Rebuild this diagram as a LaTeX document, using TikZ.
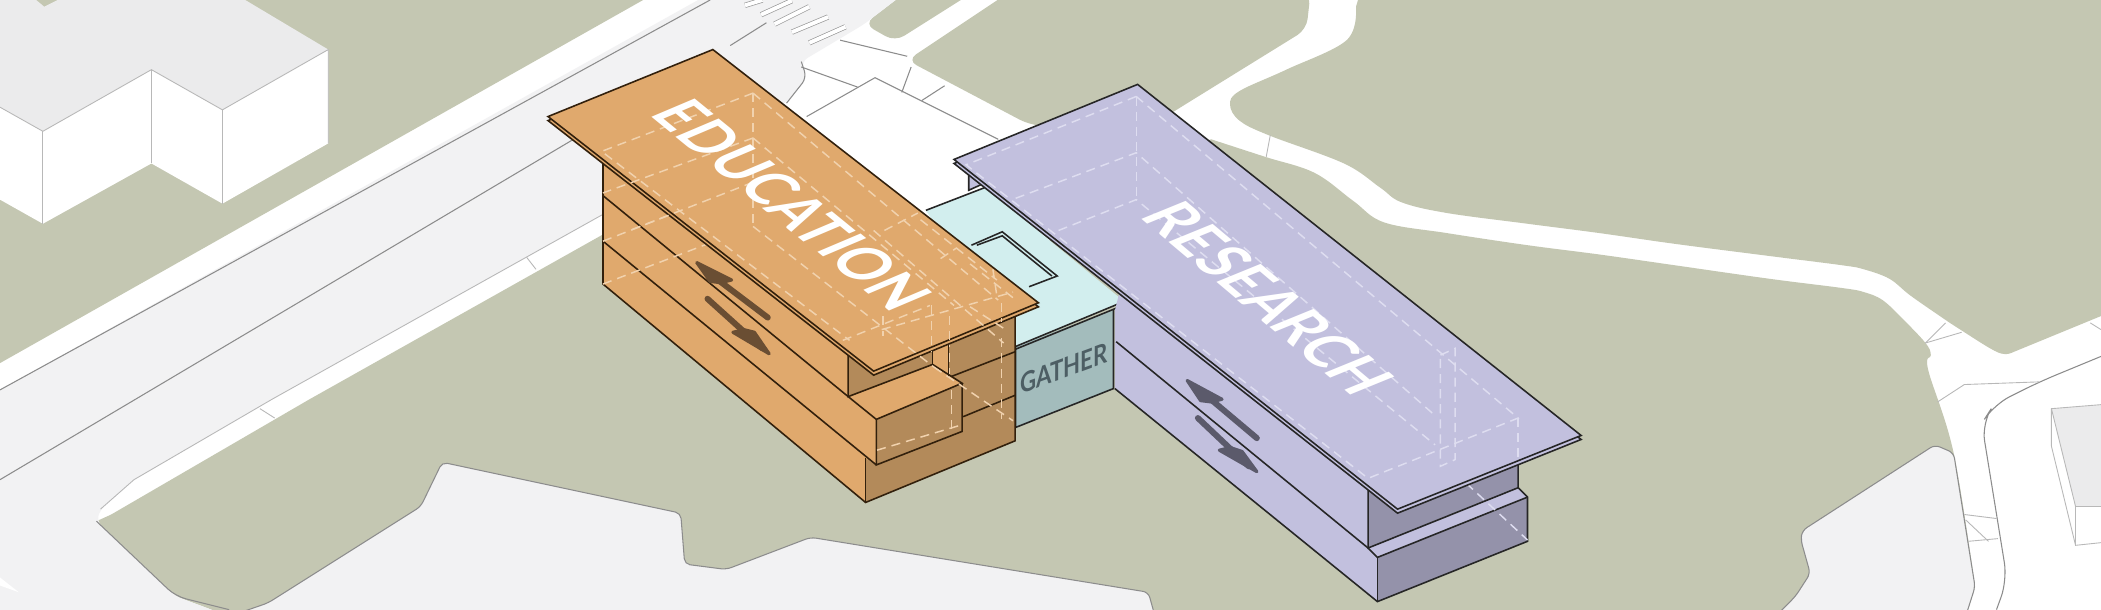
\documentclass[tikz,border=0pt]{standalone}
\usepackage{fontspec}
\setmainfont{Lato}
\definecolor{lawn}{RGB}{196,199,178}
\definecolor{paving}{RGB}{242,242,243}
\definecolor{blocktop}{RGB}{235,235,236}
\definecolor{eduface}{RGB}{224,169,109}
\definecolor{edushade}{RGB}{179,138,90}
\definecolor{eduline}{RGB}{50,32,12}
\definecolor{eduarrow}{RGB}{106,78,51}
\definecolor{eduxray}{RGB}{241,210,174}
\definecolor{resface}{RGB}{194,192,222}
\definecolor{resshade}{RGB}{148,146,170}
\definecolor{resarrow}{RGB}{91,90,107}
\definecolor{resxray}{RGB}{222,221,240}
\definecolor{gatherroof}{RGB}{210,238,238}
\definecolor{gatherwall}{RGB}{163,188,188}
\definecolor{gathertext}{RGB}{77,94,100}
\tikzset{
    siteline/.style={draw=black!45, line width=0.3pt},
    faintline/.style={draw=black!28, line width=0.25pt},
    zebrabar/.style={draw=black!40, line width=0.2pt, double=white, double distance=1.1pt},
    eduedge/.style={draw=eduline, line width=0.45pt},
    resedge/.style={draw=black!85, line width=0.45pt},
    eduxrayline/.style={draw=eduxray, line width=0.42pt, dash pattern=on 2.6pt off 1.7pt},
    resxrayline/.style={draw=resxray, line width=0.42pt, dash pattern=on 2.6pt off 1.7pt},
    massword/.style={text=white, inner sep=0pt, font=\bfseries\fontsize{10}{12}\selectfont},
    eduhead/.style={fill=eduarrow, draw=eduarrow, line width=0.9pt, line join=round},
    reshead/.style={fill=resarrow, draw=resarrow, line width=0.9pt, line join=round},
}
\begin{document}
\begin{tikzpicture}[x=0.0134cm, y=-0.0134cm]
    \useasboundingbox (0,0) rectangle (1568,455.2);
    \fill[white] (0,0) rectangle (1568,455.2);

    \fill[lawn] (0,0) -- (480,0) -- (0,271) -- cycle;
    \fill[lawn, rounded corners=3pt] (645,18) -- (675,-5) -- (725,-5) -- (668,31) -- cycle;
    \fill[lawn, rounded corners=3pt] (752,-5) -- (677,45) -- (768,93) -- (850,100) -- (878,82) -- (975,22) -- (978,-5) -- cycle;
    \fill[lawn] (1015,-5) -- plot[smooth, tension=.6] coordinates {(1012,5) (1005,30) (960,52) (925,68) (918,78) (925,90) (947,101) (1003,122) (1030,140) (1046,151) (1080,159) (1140,167) (1194,174) (1250,182) (1320,191) (1375,198) (1391,201) (1410,208) (1425,220) (1445,234) (1463,246) (1491,263) (1502,263)} -- (1575,233) -- (1575,-5) -- cycle;
    \fill[lawn] (83,384) -- (231,298) -- (450,175) -- (600,150) -- (760,200) -- (850,120) -- plot[smooth, tension=.6] coordinates {(904,104) (944,117) (981,129) (1010,150) (1033,166) (1080,174) (1140,183) (1194,190) (1250,198) (1320,208) (1375,215) (1391,218) (1405,224) (1420,238) (1437,256) (1441,265) (1439,276) (1458,338) (1474,438)} -- (1467,460) -- (171,460) -- (150,452) -- (131,445) -- (72,389) -- cycle;
    \fill[lawn] (0,437) -- (12,442) -- (45,456) -- (0,456) -- cycle;

    \fill[paving, rounded corners=2pt] (0,291) -- (530,-5) -- (675,-5) -- (645,18) -- (598,46) -- (602,58) -- (587,77) -- (500,100) -- (450,160) -- (203,298) -- (100,358) -- (75,380) -- (72,389) -- (131,445) -- (171,460) -- (-5,460) -- (-5,293) -- cycle;
    \fill[white] (0,431) -- (14,442) -- (0,437) -- cycle;
    \filldraw[paving, siteline, rounded corners=1.5pt] (171,460) -- (200,450) -- (314,378) -- (330,345) -- (508,383) -- (511,421) -- (542,425) -- (605,401) -- (857,442) -- (862,460) -- cycle;
    \filldraw[paving, siteline, rounded corners=1.5pt] (1325,460) -- (1340,445) -- (1351,428) -- (1344,403) -- (1345,396) -- (1444,332) -- (1458,338) -- (1474,438) -- (1467,460) -- cycle;

    \draw[siteline] (0,291) -- (530,0);
    \draw[siteline] (0,358) -- (428,104);
    \draw[siteline] (545,34) -- (572,17);
    \draw[faintline] (450,160) -- (203,298) -- (100,358) -- (75,380);
    \draw[faintline] (393,192) -- (400,201);
    \draw[faintline] (194,305) -- (205,312);
    \draw[siteline, rounded corners=3pt] (72,389) -- (131,445) -- (171,455);
    \draw[siteline, rounded corners=2pt] (598,46) -- (602,58) -- (587,77);

    \draw[zebrabar] (556,4) -- (569,0);
    \draw[zebrabar] (568,11) -- (591,0.5);
    \draw[zebrabar] (578,18) -- (604,5);
    \draw[zebrabar] (591,24) -- (618,12.7);
    \draw[zebrabar] (604,32) -- (631,20);
    \draw[siteline] (598,50) -- (640,65);
    \draw[siteline] (627,30) -- (677,42);
    \draw[siteline] (602,87) -- (653,58) -- (745,104);
    \draw[siteline] (688,75) -- (705,64);
    \draw[siteline] (680,50) -- (673,69);
    \draw[faintline] (948,101) -- (945,117);

    \fill[blocktop] (43,0) -- (183,0) -- (245,37) -- (166,82) -- (113,52) -- (32,98) -- (0,80) -- (0,0) -- (27,0) -- (33,5) -- cycle;
    \fill[white] (0,80) -- (32,98) -- (113,52) -- (166,82) -- (245,37) -- (245,107) -- (166,152) -- (113,122) -- (32,167) -- (0,149) -- cycle;
    \draw[faintline] (0,80) -- (32,98) -- (113,52) -- (166,82) -- (245,37) -- (245,107);
    \draw[faintline] (32,98) -- (32,167);
    \draw[faintline] (113,52) -- (113,122);
    \draw[faintline] (166,82) -- (166,152);

    \draw[faintline] (1437,256) -- (1452,241);
    \draw[faintline] (1437,256) -- (1464,248);
    \draw[faintline] (1560,241) -- (1568,246);
    \draw[siteline, rounded corners=5pt] (1568,266) -- (1522,285) -- (1488,302) -- (1479,316) -- (1498,433) -- (1490,455);
    \draw[faintline] (1446,300) -- (1466,287) -- (1522,285);
    \draw[faintline] (1466,384) -- (1490,387);
    \draw[faintline] (1469,404) -- (1491,402);
    \draw[faintline] (1467,388) -- (1484,404);
    \fill[blocktop] (1531,305) -- (1568,302) -- (1568,378) -- (1549,378) -- cycle;
    \draw[faintline] (1568,302) -- (1531,305) -- (1531,333) -- (1549,407) -- (1568,405);
    \draw[faintline] (1531,305) -- (1549,378) -- (1549,407);
    \draw[faintline] (1549,378) -- (1568,378);

    \fill[gatherroof] (691,157) -- (735,140) -- (839,225) -- (757,259) -- cycle;
    \draw[resedge] (691,157) -- (735,140);
    \fill[gatherwall] (757,259) -- (831,231) -- (831,290) -- (758,319) -- cycle;
    \draw[resedge] (757,259) -- (839,225) -- (838,228) -- (757,261);
    \draw[resedge] (831,231) -- (831,290) -- (758,319) -- (758,259);
    \draw[resedge] (725,183) -- (748,173) -- (789,206) -- (768,214);
    \draw[resedge] (729,183) -- (748,176) -- (785,206);
    \node[text=gathertext, inner sep=0pt, font=\bfseries\fontsize{10}{12}\selectfont, cm={.63,.23,0,.79,(0,0)}] (gatherword) at (794,275) {GATHER};

    \filldraw[fill=resface, resedge] (723,125) -- (723,142) -- (745,132) -- cycle;
    \fill[resface] (840,200) -- (1021,364) -- (1021,409) -- (1028,416) -- (1028,449) -- (832,290) -- (832,232) -- cycle;
    \fill[resshade] (1021,364) -- (1043,380) -- (1133,345) -- (1133,364) -- (1021,409) -- cycle;
    \fill[resface] (1021,409) -- (1028,416) -- (1140,371) -- (1133,364) -- cycle;
    \fill[resshade] (1028,416) -- (1140,371) -- (1140,404) -- (1028,449) -- cycle;
    \draw[resedge] (832,290) -- (1028,449) -- (1140,404) -- (1140,371) -- (1133,364) -- (1133,345);
    \draw[resedge] (1021,409) -- (1028,416) -- (1140,371);
    \draw[resedge] (1028,416) -- (1028,449);
    \draw[resedge] (1021,364) -- (1021,409) -- (1133,364);
    \draw[resedge] (833,255) -- (1021,409);
    \draw[resxrayline] (1086,353) -- (1140,403);

    \draw[resarrow, line width=1.7pt, line cap=round] (900,295) -- (938,327);
    \filldraw[reshead] (886,284) -- (912,298) -- (904,300) -- (896,299) -- cycle;
    \draw[resarrow, line width=1.7pt, line cap=round] (894,312) -- (932,348);
    \filldraw[reshead] (938,352) -- (910,336) -- (918,334) -- (927,337) -- cycle;

    \filldraw[fill=resface, resedge] (712,122) -- (849,66) -- (1180,328) -- (1043,383) -- cycle;
    \filldraw[fill=resface, resedge] (712,119) -- (849,63) -- (1180,325) -- (1043,380) -- cycle;
    \draw[resxrayline] (848,72) -- (721,123) -- (1021,357) -- (1133,312) -- cycle;
    \draw[resxrayline] (848,72) -- (848,149);
    \draw[resxrayline] (758,148) -- (848,114) -- (1072,311);
    \draw[resxrayline] (790,172) -- (848,149) -- (1071,332);
    \draw[resxrayline] (1133,312) -- (1133,345);
    \draw[resxrayline] (1075,265) -- (1086,260) -- (1086,343) -- (1075,348) -- cycle;
    \node[massword, cm={1.2,-1.01,1.74,.71,(0,0)}] (researchword) at (946.6,222.7) {RESEARCH};

    \fill[eduface] (450,100) -- (450,212) -- (646,375) -- (646,342) -- (654,347) -- (654,313) -- (633,296) -- (633,260) -- (560,170) -- cycle;
    \fill[edushade] (646,375) -- (646,342) -- (654,347) -- (718,322) -- (718,286) -- (708,281) -- (708,251) -- (757.6,233) -- (757.6,329) -- cycle;
    \fill[edushade] (633,260) -- (652,277) -- (696,257) -- (696,272) -- (633,296) -- cycle;
    \fill[eduface] (696,250) -- (708,245) -- (708,281) -- (696,272) -- cycle;
    \fill[eduface] (633,296) -- (696,272) -- (718,286) -- (654,313) -- cycle;
    \fill[edushade] (654,313) -- (718,286) -- (718,322) -- (654,347) -- cycle;
    \draw[eduedge] (450,120) -- (450,212) -- (646,375) -- (757.6,329) -- (757.6,233);
    \draw[eduedge] (450,146) -- (633,296);
    \draw[eduedge] (450,180) -- (654,347);
    \draw[eduedge] (646,342) -- (646,375);
    \draw[eduedge] (633,260) -- (633,296) -- (696,272) -- (718,286) -- (654,313) -- (633,296);
    \draw[eduedge] (654,313) -- (654,347) -- (718,322) -- (718,286);
    \draw[eduedge] (696,257) -- (696,272);
    \draw[eduedge] (708,251) -- (708,281);
    \draw[eduedge] (710,281) -- (757.6,262.5);
    \draw[eduedge] (718.8,311) -- (757.6,295);
    \draw[eduxrayline] (450,212) -- (562,169);
    \draw[eduxrayline] (450,180) -- (562,136);
    \draw[eduxrayline] (654.5,336) -- (718,317);
    \draw[eduxrayline] (710,291) -- (710,322);
    \draw[eduxrayline] (747.6,252.5) -- (747.6,313);
    \draw[eduxrayline] (697,274) -- (756,314);
    \draw[eduxrayline] (708.5,252) -- (708.5,279);

    \draw[eduarrow, line width=1.7pt, line cap=round] (532,206) -- (573,237);
    \filldraw[eduhead] (520,196) -- (546,209) -- (538,211) -- (530,210) -- cycle;
    \draw[eduarrow, line width=1.7pt, line cap=round] (528,223) -- (569,260);
    \filldraw[eduhead] (574,264) -- (547,248) -- (555,246) -- (563,248) -- cycle;

    \filldraw[fill=eduface, eduedge] (409,90) -- (532,40) -- (775,229) -- (652,280) -- cycle;
    \filldraw[fill=eduface, eduedge] (409,87) -- (532,37) -- (775,226) -- (652,277) -- cycle;
    \draw[eduxrayline] (562,69.5) -- (449,113) -- (634,254);
    \draw[eduxrayline] (562,103) -- (450,144);
    \draw[eduxrayline] (562,136) -- (470,172);
    \draw[eduxrayline] (562,69.5) -- (562,169);
    \draw[eduxrayline] (562,69.5) -- (745,224);
    \draw[eduxrayline] (562,103) -- (712,228);
    \draw[eduxrayline] (562,169) -- (697,274);
    \draw[eduxrayline] (652,172) -- (749,256);
    \draw[eduxrayline] (687,164) -- (744,209);
    \draw[eduxrayline] (629,254) -- (694,228);
    \draw[eduxrayline] (658,246) -- (756,218);
    \draw[eduxrayline] (660,172) -- (685,159);
    \draw[eduxrayline] (702,193) -- (714,185);
    \draw[eduxrayline] (695,228) -- (695,262);
    \draw[eduxrayline] (708.5,236) -- (708.5,256);
    \draw[eduxrayline] (747.6,226) -- (747.6,240);
    \draw[eduxrayline] (659,236) -- (659,251);
    \draw[eduxrayline] (724,197) -- (757,223);
    \draw[eduxrayline] (741,201) -- (744,221);
    \draw[eduxrayline] (724,229) -- (749,245);
    \node[massword, cm={1.19,-.97,1.70,.72,(0,0)}] (educationword) at (591,153) {EDUCATION};
\end{tikzpicture}
\end{document}
